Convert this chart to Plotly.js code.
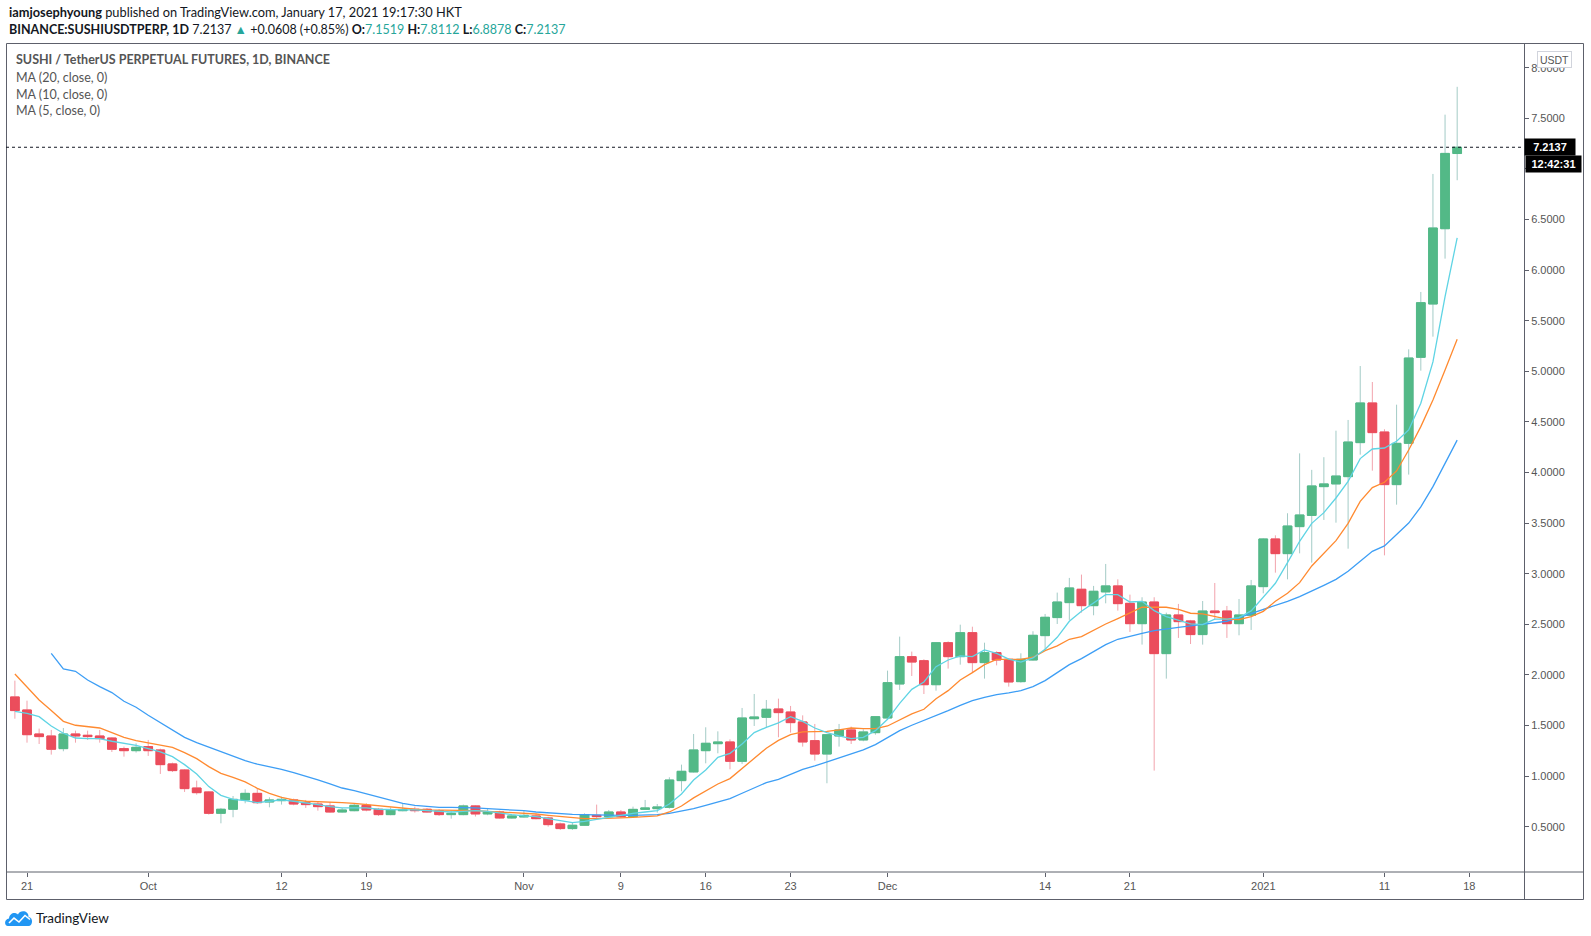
<!DOCTYPE html>
<html>
<head>
<meta charset="utf-8">
<script src="https://cdn.plot.ly/plotly-3.0.1.min.js"></script>
<style>
html,body{margin:0;padding:0;background:#fff;}
#chart{width:1591px;height:936px;}
</style>
</head>
<body>
<div id="chart"></div>
<script>
// ---------------- DATA ----------------
const dates = [
'2020-09-20','2020-09-21','2020-09-22','2020-09-23','2020-09-24','2020-09-25','2020-09-26','2020-09-27','2020-09-28','2020-09-29','2020-09-30',
'2020-10-01','2020-10-02','2020-10-03','2020-10-04','2020-10-05','2020-10-06','2020-10-07','2020-10-08','2020-10-09','2020-10-10',
'2020-10-11','2020-10-12','2020-10-13','2020-10-14','2020-10-15','2020-10-16','2020-10-17','2020-10-18','2020-10-19','2020-10-20',
'2020-10-21','2020-10-22','2020-10-23','2020-10-24','2020-10-25','2020-10-26','2020-10-27','2020-10-28','2020-10-29','2020-10-30','2020-10-31',
'2020-11-01','2020-11-02','2020-11-03','2020-11-04','2020-11-05','2020-11-06','2020-11-07','2020-11-08','2020-11-09','2020-11-10',
'2020-11-11','2020-11-12','2020-11-13','2020-11-14','2020-11-15','2020-11-16','2020-11-17','2020-11-18','2020-11-19','2020-11-20',
'2020-11-21','2020-11-22','2020-11-23','2020-11-24','2020-11-25','2020-11-26','2020-11-27','2020-11-28','2020-11-29','2020-11-30',
'2020-12-01','2020-12-02','2020-12-03','2020-12-04','2020-12-05','2020-12-06','2020-12-07','2020-12-08','2020-12-09','2020-12-10',
'2020-12-11','2020-12-12','2020-12-13','2020-12-14','2020-12-15','2020-12-16','2020-12-17','2020-12-18','2020-12-19','2020-12-20',
'2020-12-21','2020-12-22','2020-12-23','2020-12-24','2020-12-25','2020-12-26','2020-12-27','2020-12-28','2020-12-29','2020-12-30','2020-12-31',
'2021-01-01','2021-01-02','2021-01-03','2021-01-04','2021-01-05','2021-01-06','2021-01-07','2021-01-08','2021-01-09','2021-01-10',
'2021-01-11','2021-01-12','2021-01-13','2021-01-14','2021-01-15','2021-01-16','2021-01-17'];

const openP = [
1.782,1.653,1.416,1.396,1.271,1.416,1.403,1.396,1.376,1.271,1.251,
1.291,1.258,1.120,1.060,0.882,0.843,0.632,0.672,0.764,0.829,
0.744,0.757,0.764,0.737,0.724,0.705,0.645,0.658,0.711,0.672,
0.619,0.658,0.672,0.672,0.658,0.619,0.619,0.705,0.626,0.645,0.586,
0.596,0.606,0.586,0.527,0.481,0.514,0.612,0.599,0.645,0.599,
0.671,0.678,0.691,0.955,1.041,1.251,1.320,1.337,1.146,1.567,
1.581,1.663,1.633,1.535,1.350,1.218,1.396,1.456,1.357,1.429,
1.574,1.910,2.180,2.140,1.903,2.318,2.180,2.417,2.121,2.220,
2.154,1.933,2.147,2.388,2.566,2.714,2.846,2.684,2.820,2.879,
2.707,2.506,2.720,2.210,2.592,2.533,2.398,2.631,2.631,2.506,2.589,
2.872,3.343,3.198,3.465,3.576,3.860,3.887,3.959,4.295,4.687,
4.400,3.880,4.288,5.138,5.665,6.409,7.1519];

const highP = [
1.943,1.745,1.469,1.456,1.475,1.449,1.449,1.456,1.383,1.291,1.324,
1.357,1.271,1.133,1.067,0.955,0.849,0.685,0.803,0.869,0.876,
0.790,0.797,0.777,0.764,0.744,0.744,0.685,0.724,0.731,0.685,
0.691,0.731,0.698,0.685,0.672,0.658,0.718,0.711,0.685,0.658,0.613,
0.655,0.632,0.599,0.540,0.540,0.632,0.718,0.665,0.665,0.698,
0.764,0.724,0.988,1.113,1.416,1.482,1.442,1.363,1.673,1.811,
1.752,1.765,1.693,1.600,1.515,1.416,1.515,1.489,1.462,1.590,
2.042,2.378,2.230,2.154,2.325,2.331,2.496,2.476,2.318,2.233,
2.160,2.213,2.431,2.602,2.813,2.958,2.991,2.879,3.096,2.944,
2.793,2.767,2.767,2.615,2.701,2.543,2.730,2.908,2.681,2.750,2.938,
3.350,3.379,3.597,4.189,4.026,4.151,4.413,4.519,5.052,4.894,
4.427,4.670,5.217,5.784,6.950,7.536,7.8112];

const lowP = [
1.567,1.330,1.317,1.212,1.245,1.330,1.357,1.330,1.238,1.192,1.232,
1.199,1.021,1.040,0.843,0.817,0.619,0.533,0.593,0.731,0.725,
0.691,0.718,0.711,0.685,0.658,0.639,0.639,0.652,0.652,0.606,
0.613,0.652,0.639,0.639,0.606,0.579,0.613,0.600,0.613,0.579,0.580,
0.590,0.573,0.500,0.468,0.468,0.507,0.586,0.586,0.586,0.586,
0.665,0.639,0.678,0.850,1.035,1.126,1.225,1.067,1.120,1.495,
1.482,1.383,1.429,1.291,1.152,0.929,1.291,1.317,1.344,1.409,
1.555,1.851,1.989,1.811,1.844,2.062,2.101,2.022,1.963,2.094,
1.884,1.923,2.141,2.246,2.503,2.543,2.615,2.589,2.707,2.635,
2.424,2.299,1.054,1.963,2.365,2.305,2.299,2.543,2.365,2.391,2.444,
2.806,3.010,2.944,3.201,3.109,3.531,3.504,3.247,4.176,4.018,
3.181,3.682,3.979,5.006,5.342,6.113,6.8878];

const closeP = [
1.647,1.409,1.390,1.265,1.416,1.396,1.390,1.370,1.265,1.251,1.284,
1.251,1.113,1.054,0.876,0.836,0.632,0.672,0.770,0.829,0.737,
0.764,0.770,0.724,0.718,0.698,0.645,0.665,0.711,0.665,0.619,
0.665,0.668,0.658,0.645,0.619,0.632,0.705,0.626,0.645,0.586,0.606,
0.612,0.579,0.520,0.481,0.514,0.619,0.599,0.645,0.599,0.671,
0.685,0.695,0.961,1.047,1.258,1.324,1.337,1.146,1.574,1.584,
1.660,1.627,1.528,1.337,1.218,1.409,1.456,1.357,1.436,1.587,
1.923,2.180,2.127,1.903,2.318,2.180,2.417,2.121,2.220,2.147,
1.930,2.154,2.391,2.569,2.720,2.859,2.684,2.826,2.879,2.704,
2.506,2.720,2.210,2.592,2.526,2.398,2.631,2.615,2.506,2.592,2.879,
3.343,3.198,3.471,3.580,3.867,3.887,3.965,4.301,4.687,4.394,
3.880,4.288,5.131,5.678,6.416,7.1529,7.2137];

const ma5 = [
1.640,1.620,1.587,1.495,1.423,1.376,1.370,1.370,1.344,1.324,1.304,
1.271,1.238,1.192,1.113,1.021,0.896,0.810,0.770,0.757,0.737,
0.751,0.764,0.751,0.737,0.718,0.698,0.685,0.685,0.685,0.672,
0.665,0.665,0.665,0.658,0.652,0.645,0.652,0.658,0.652,0.632,0.619,
0.606,0.599,0.579,0.560,0.540,0.553,0.573,0.586,0.606,0.632,
0.645,0.658,0.724,0.823,0.961,1.060,1.185,1.225,1.317,1.429,
1.482,1.525,1.587,1.541,1.475,1.429,1.396,1.370,1.383,1.449,
1.561,1.719,1.857,1.930,2.081,2.147,2.187,2.180,2.246,2.213,
2.155,2.127,2.167,2.253,2.371,2.530,2.628,2.707,2.793,2.793,
2.720,2.727,2.635,2.576,2.536,2.503,2.497,2.550,2.550,2.565,2.632,
2.765,2.905,3.109,3.320,3.497,3.603,3.748,3.913,4.137,4.232,
4.242,4.308,4.420,4.684,5.092,5.738,6.318];

const ma10 = [
2.009,1.884,1.752,1.647,1.541,1.502,1.489,1.475,1.429,1.383,1.350,
1.330,1.304,1.284,1.232,1.172,1.093,1.027,0.988,0.942,0.879,
0.830,0.790,0.764,0.751,0.744,0.737,0.737,0.731,0.718,0.705,
0.691,0.678,0.672,0.665,0.665,0.658,0.658,0.658,0.652,0.645,0.639,
0.636,0.625,0.612,0.599,0.586,0.579,0.579,0.579,0.586,0.592,
0.599,0.606,0.645,0.704,0.784,0.856,0.922,0.975,1.074,1.172,
1.275,1.353,1.409,1.436,1.436,1.442,1.456,1.475,1.469,1.469,
1.495,1.555,1.614,1.660,1.765,1.844,1.949,2.022,2.101,2.154,
2.154,2.154,2.174,2.240,2.286,2.352,2.378,2.444,2.503,2.556,
2.609,2.668,2.668,2.668,2.648,2.609,2.602,2.576,2.550,2.546,2.576,
2.628,2.727,2.806,2.911,3.076,3.201,3.326,3.497,3.715,3.850,
3.903,4.015,4.222,4.453,4.716,5.013,5.316];

const ma20 = [
null,null,null,2.213,2.058,2.035,1.949,1.884,1.825,1.739,1.680,
1.601,1.528,1.462,1.383,1.330,1.284,1.238,1.199,1.153,1.117,
1.093,1.067,1.034,1.001,0.962,0.922,0.882,0.856,0.823,0.790,
0.757,0.731,0.711,0.698,0.691,0.691,0.691,0.685,0.678,0.672,0.665,
0.658,0.645,0.635,0.625,0.622,0.619,0.615,0.612,0.612,0.612,
0.615,0.619,0.632,0.652,0.678,0.711,0.744,0.777,0.830,0.882,
0.935,0.968,1.021,1.067,1.100,1.139,1.179,1.218,1.258,1.311,
1.376,1.449,1.502,1.548,1.600,1.646,1.699,1.745,1.778,1.805,
1.821,1.844,1.884,1.943,2.022,2.101,2.160,2.233,2.299,2.352,
2.385,2.411,2.438,2.457,2.470,2.484,2.497,2.517,2.530,2.566,2.605,
2.648,2.688,2.727,2.773,2.826,2.885,2.944,3.023,3.122,3.221,
3.274,3.386,3.500,3.660,3.860,4.090,4.320];

const xTickVals = ['2020-09-21','2020-10-01','2020-10-12','2020-10-19','2020-11-01','2020-11-09','2020-11-16','2020-11-23','2020-12-01','2020-12-14','2020-12-21','2021-01-01','2021-01-11','2021-01-18'];
const xTickText = ['21','Oct','12','19','Nov','9','16','23','Dec','14','21','2021','11','18'];
const yTickVals = [0.5,1.0,1.5,2.0,2.5,3.0,3.5,4.0,4.5,5.0,5.5,6.0,6.5,7.0,7.5,8.0];
const yTickText = ['0.5000','1.0000','1.5000','2.0000','2.5000','3.0000','3.5000','4.0000','4.5000','5.0000','5.5000','6.0000','6.5000','','7.5000','8.0000'];

const symbolName = 'BINANCE:SUSHIUSDTPERP, 1D';
const seriesTitle = 'SUSHI / TetherUS PERPETUAL FUTURES, 1D, BINANCE';
const maLabels = ['MA (20, close, 0)','MA (10, close, 0)','MA (5, close, 0)'];
const publishLine = '<b>iamjosephyoung</b> published on TradingView.com, January 17, 2021 19:17:30 HKT';
const countdown = '12:42:31';
const currency = 'USDT';

// ---------------- STYLE ----------------
const W = 1591, H = 936, ML = 6, MR = 67, MT = 43, MB = 64;
const PW = W - ML - MR, PH = H - MT - MB;
const px = x => (x - ML) / PW;
const py = y => (H - MB - y) / PH;

const GREEN = '#53b987', RED = '#eb4d5c';
const GREEN_WICK = '#a3cbc6', RED_WICK = '#f2a3ac';
const TEAL = '#26a69a';
const FRAME = '#5d606b';
const TXT = '#131722';
const GREY = '#555555';
const UIFONT = 'Lato, "Open Sans", "Liberation Sans", sans-serif';
const AXFONT = '"Liberation Sans", Arial, sans-serif';

const n = closeP.length;
const bodyHigh = openP.map((o, i) => Math.max(o, closeP[i]));
const bodyLow = openP.map((o, i) => Math.min(o, closeP[i]));

const traces = [
  {
    type: 'candlestick', x: dates, open: openP, high: highP, low: lowP, close: closeP,
    increasing: {line: {color: GREEN_WICK, width: 1}, fillcolor: GREEN},
    decreasing: {line: {color: RED_WICK, width: 1}, fillcolor: RED},
    showlegend: false, hoverinfo: 'skip'
  },
  {
    type: 'candlestick', x: dates, open: openP, high: bodyHigh, low: bodyLow, close: closeP,
    increasing: {line: {color: GREEN, width: 1}, fillcolor: GREEN},
    decreasing: {line: {color: RED, width: 1}, fillcolor: RED},
    showlegend: false, hoverinfo: 'skip'
  },
  {type: 'scatter', mode: 'lines', x: dates, y: ma20, line: {color: '#3d9ef5', width: 1.3}, showlegend: false, hoverinfo: 'skip'},
  {type: 'scatter', mode: 'lines', x: dates, y: ma10, line: {color: '#ff8a30', width: 1.3}, showlegend: false, hoverinfo: 'skip'},
  {type: 'scatter', mode: 'lines', x: dates, y: ma5, line: {color: '#5fd4e4', width: 1.3}, showlegend: false, hoverinfo: 'skip'}
];

const lastO = openP[n-1], lastH = highP[n-1], lastL = lowP[n-1], lastC = closeP[n-1];
const chg = lastC - closeP[n-2];
const pct = chg / closeP[n-2] * 100;
const tealSpan = s => '<span style="color:' + TEAL + '">' + s + '</span>';
const line2 = '<b>' + symbolName + '</b> ' + lastC.toFixed(4) + ' ' + tealSpan('▲') + ' ' +
  (chg >= 0 ? '+' : '') + chg.toFixed(4) + ' (' + (pct >= 0 ? '+' : '') + pct.toFixed(2) + '%) ' +
  '<b>O:</b>' + tealSpan(lastO.toFixed(4)) + ' <b>H:</b>' + tealSpan(lastH.toFixed(4)) +
  ' <b>L:</b>' + tealSpan(lastL.toFixed(4)) + ' <b>C:</b>' + tealSpan(lastC.toFixed(4));

function txt(x, y, text, opts) {
  return Object.assign({
    xref: 'paper', yref: 'paper', x: px(x), y: py(y), text: text, showarrow: false,
    xanchor: 'left', yanchor: 'middle', align: 'left',
    font: {family: UIFONT, size: 13, color: TXT}
  }, opts || {});
}

const annotations = [
  txt(7, 12.5, publishLine, {font: {family: UIFONT, size: 12.8, color: TXT}}),
  txt(7, 29.5, line2, {font: {family: UIFONT, size: 12.5, color: TXT}}),
  txt(14, 60, '<b>' + seriesTitle + '</b>', {font: {family: UIFONT, size: 12.5, color: GREY}}),
  txt(14, 77, maLabels[0], {font: {family: UIFONT, size: 12.5, color: GREY}}),
  txt(14, 94, maLabels[1], {font: {family: UIFONT, size: 12.5, color: GREY}}),
  txt(14, 111, maLabels[2], {font: {family: UIFONT, size: 12.5, color: GREY}}),
  // last price label
  {xref: 'paper', yref: 'y', x: px(1524), y: lastC, text: '<b>' + lastC.toFixed(4) + '</b>', showarrow: false,
   xanchor: 'left', yanchor: 'middle', bgcolor: '#000000', width: 46, height: 12, borderpad: 2, align: 'center',
   font: {family: AXFONT, size: 11, color: '#ffffff'}},
  // countdown
  {xref: 'paper', yref: 'paper', x: px(1525), y: py(164), text: '<b>' + countdown + '</b>', showarrow: false,
   xanchor: 'left', yanchor: 'middle', bgcolor: '#000000', width: 51, height: 12, borderpad: 2, align: 'center',
   font: {family: AXFONT, size: 11, color: '#ffffff'}},
  // currency badge
  {xref: 'paper', yref: 'paper', x: px(1537), y: py(59.5), text: currency, showarrow: false,
   xanchor: 'left', yanchor: 'middle', bgcolor: '#ffffff', bordercolor: '#d1d4dc', borderwidth: 1,
   width: 30, height: 12, borderpad: 1.5, align: 'center',
   font: {family: AXFONT, size: 10.5, color: GREY}},
  // footer
  txt(34, 918, 'TradingView', {font: {family: UIFONT, size: 13.5, color: TXT}})
];

function pathPx(cmds) {
  return cmds.map(c => {
    let s = c[0];
    for (let i = 1; i < c.length; i += 2) s += ' ' + px(c[i]).toFixed(6) + ',' + py(c[i+1]).toFixed(6);
    return s;
  }).join(' ');
}
function lineShape(x0, y0, x1, y1, color) {
  return {type: 'line', xref: 'paper', yref: 'paper', x0: px(x0), y0: py(y0), x1: px(x1), y1: py(y1),
          line: {color: color || FRAME, width: 1}, layer: 'above'};
}

const shapes = [
  {type: 'rect', xref: 'paper', yref: 'paper', x0: px(6.5), y0: py(43.5), x1: px(1583.5), y1: py(899.5),
   line: {color: FRAME, width: 1}, fillcolor: 'rgba(0,0,0,0)', layer: 'above'},
  lineShape(6.5, 872, 1583.5, 872),
  lineShape(1524.5, 43.5, 1524.5, 899.5),
  {type: 'line', xref: 'paper', yref: 'y', x0: 0, x1: px(1524), y0: lastC, y1: lastC,
   line: {color: '#131722', width: 1, dash: 'dot'}, layer: 'above'},
  {type: 'path', xref: 'paper', yref: 'paper', layer: 'above',
   path: pathPx([['M', 8, 926], ['C', 4, 926, 4, 919, 9, 918.5], ['C', 9.5, 913, 15, 911.5, 18, 914.5],
                 ['C', 20, 909.5, 29, 910.5, 28.5, 917], ['C', 33.5, 917.5, 33, 926, 28.5, 926], ['Z']]),
   fillcolor: '#2196f3', line: {width: 0}},
  {type: 'path', xref: 'paper', yref: 'paper', layer: 'above',
   path: pathPx([['M', 9, 923], ['L', 14, 918], ['L', 19, 922], ['L', 25, 915.5], ['L', 30, 919.5]]),
   line: {color: '#ffffff', width: 1.6}}
];

const layout = {
  width: W, height: H,
  margin: {l: ML, r: MR, t: MT, b: MB, pad: 0},
  paper_bgcolor: '#ffffff', plot_bgcolor: '#ffffff',
  showlegend: false,
  boxgap: 0.1, boxgroupgap: 0.2, boxmode: 'overlay',
  xaxis: {
    type: 'date', range: ['2020-09-19 06:24', '2021-01-22 12:19'],
    tickvals: xTickVals, ticktext: xTickText,
    ticks: 'outside', ticklen: 4, tickcolor: FRAME, tickwidth: 1,
    showgrid: false, zeroline: false, showline: false,
    rangeslider: {visible: false}, fixedrange: true,
    tickfont: {family: AXFONT, size: 11, color: GREY}
  },
  yaxis: {
    side: 'right', range: [0.052, 8.244], tickvals: yTickVals, ticktext: yTickText,
    ticks: 'outside', ticklen: 4, tickcolor: FRAME, tickwidth: 1,
    showgrid: false, zeroline: false, showline: false, fixedrange: true,
    tickfont: {family: AXFONT, size: 11, color: GREY}
  },
  annotations: annotations,
  shapes: shapes
};

Plotly.newPlot('chart', traces, layout, {displayModeBar: false, staticPlot: true});
</script>
</body>
</html>
